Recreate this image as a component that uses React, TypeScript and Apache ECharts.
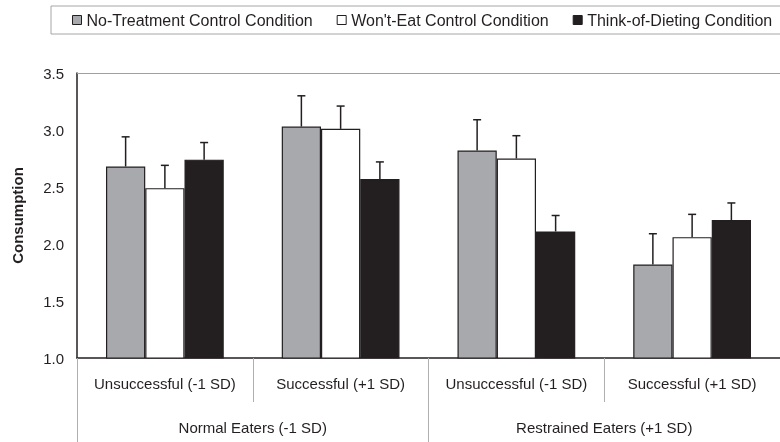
import React, { useEffect, useRef } from "react";
import * as echarts from "echarts";

const subCategories = [
  "Unsuccessful (-1 SD)",
  "Successful (+1 SD)",
  "Unsuccessful (-1 SD)",
  "Successful (+1 SD)",
];
const groupCategories = ["Normal Eaters (-1 SD)", "Restrained Eaters (+1 SD)"];
const seriesNames = [
  "No-Treatment Control Condition",
  "Won't-Eat Control Condition",
  "Think-of-Dieting Condition",
];
const noTreatment = [2.68, 3.03, 2.82, 1.82];
const wontEat = [2.49, 3.01, 2.75, 2.06];
const thinkDieting = [2.74, 2.57, 2.11, 2.21];
const noTreatmentErr = [0.26, 0.27, 0.27, 0.27];
const wontEatErr = [0.2, 0.2, 0.2, 0.2];
const thinkDietingErr = [0.15, 0.15, 0.14, 0.15];
const yTicks = [1.0, 1.5, 2.0, 2.5, 3.0, 3.5];

const FONT = "'Liberation Sans', Arial, sans-serif";
const INK = "#231f20";
const FILLS = ["#a7a9ac", "#ffffff", INK];
const GAP_RATIO = 0.33;

export default function App() {
  const ref = useRef<HTMLDivElement>(null);
  useEffect(() => {
    if (!ref.current) return;
    const chart = echarts.init(ref.current, undefined, { renderer: "svg" });
    const values = [noTreatment, wontEat, thinkDieting];
    const errs = [noTreatmentErr, wontEatErr, thinkDietingErr];

    const makeRenderItem = (k: number) => (params: any, api: any) => {
      const i = api.value(0);
      const v = api.value(1);
      const e = api.value(2);
      const p0 = api.coord([i, v]);
      const p1 = api.coord([i, v + e]);
      const catW = api.size([1, 0])[0];
      const barW = (catW * (1 - GAP_RATIO)) / 3;
      const x = p0[0] + (k - 1) * barW;
      const cap = 4;
      return {
        type: "group",
        children: [
          {
            type: "line",
            shape: { x1: x, y1: p0[1], x2: x, y2: p1[1] },
            style: { stroke: INK, lineWidth: 1.5 },
          },
          {
            type: "line",
            shape: { x1: x - cap, y1: p1[1], x2: x + cap, y2: p1[1] },
            style: { stroke: INK, lineWidth: 1.5 },
          },
        ],
      };
    };

    const barSeries = seriesNames.map((name, k) => ({
      name,
      type: "bar",
      xAxisIndex: 0,
      data: values[k],
      barGap: "0%",
      barCategoryGap: `${GAP_RATIO * 100}%`,
      itemStyle: { color: FILLS[k], borderColor: INK, borderWidth: 1.2 },
      ...(k === 0
        ? {
            markLine: {
              silent: true,
              symbol: "none",
              label: { show: false },
              lineStyle: { color: "#a0a0a0", width: 1, type: "solid" },
              data: [{ yAxis: yTicks[yTicks.length - 1] }],
            },
          }
        : {}),
    }));

    const errSeries = seriesNames.map((name, k) => ({
      name: name + " error",
      type: "custom",
      xAxisIndex: 0,
      z: 5,
      clip: false,
      renderItem: makeRenderItem(k),
      encode: { x: 0, y: 1 },
      data: values[k].map((v, i) => [i, v, errs[k][i]]),
    }));

    chart.setOption({
      animation: false,
      textStyle: { fontFamily: FONT, color: INK },
      legend: {
        data: seriesNames,
        left: 51,
        top: 6,
        width: 760,
        padding: [6, 20, 6, 21],
        itemGap: 24,
        itemWidth: 9,
        itemHeight: 9,
        icon: "rect",
        borderColor: "#a6a6a6",
        borderWidth: 1,
        textStyle: { fontSize: 16, color: INK, fontFamily: FONT },
        itemStyle: { borderColor: INK, borderWidth: 1 },
      },
      grid: { left: 77, right: -12, top: 73, bottom: 84 },
      xAxis: [
        {
          type: "category",
          data: subCategories,
          position: "bottom",
          axisLine: { show: true, lineStyle: { color: INK, width: 1.5 } },
          axisTick: {
            show: true,
            interval: 0,
            length: 44,
            lineStyle: { color: "#b0b0b0", width: 1 },
          },
          axisLabel: {
            interval: 0,
            margin: 18,
            fontSize: 15,
            color: INK,
            fontFamily: FONT,
          },
        },
        {
          type: "category",
          data: groupCategories,
          position: "bottom",
          axisLine: { show: false },
          axisTick: {
            show: true,
            interval: 0,
            length: 84,
            lineStyle: { color: "#b0b0b0", width: 1 },
          },
          axisLabel: {
            interval: 0,
            margin: 62,
            fontSize: 15,
            color: INK,
            fontFamily: FONT,
          },
        },
      ],
      yAxis: {
        type: "value",
        min: yTicks[0],
        max: yTicks[yTicks.length - 1],
        interval: 0.5,
        name: "Consumption",
        nameLocation: "middle",
        nameRotate: 90,
        nameGap: 52,
        nameTextStyle: { fontSize: 15, fontWeight: "bold", color: INK, fontFamily: FONT },
        axisLine: { show: true, lineStyle: { color: INK, width: 1.5 } },
        axisTick: { show: false },
        splitLine: { show: false },
        axisLabel: {
          margin: 13,
          fontSize: 15,
          color: INK,
          fontFamily: FONT,
          formatter: (v: number) => v.toFixed(1),
        },
      },
      series: [...barSeries, ...errSeries],
    });
    return () => chart.dispose();
  }, []);
  return (
    <div
      ref={ref}
      style={{ position: "fixed", left: 0, top: 0, width: 780, height: 442 }}
    />
  );
}
